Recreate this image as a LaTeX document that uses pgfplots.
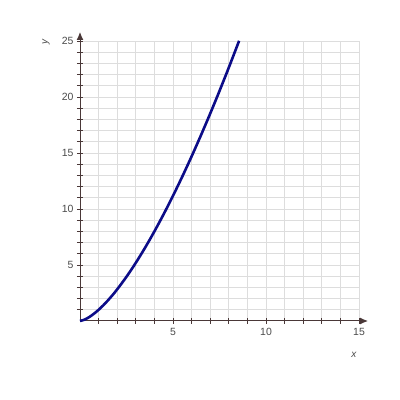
\documentclass[border=0pt]{standalone}
\usepackage{pgfplots}
\pgfplotsset{compat=1.18}
\usepackage{fontspec}
\setmainfont{Liberation Sans}
\usetikzlibrary{arrows.meta}
\definecolor{axiscol}{HTML}{4A3838}
\definecolor{gridcol}{HTML}{DDDDDD}
\definecolor{labcol}{HTML}{4A4A4A}
\definecolor{curvecol}{HTML}{0C0C88}
\begin{document}
\begin{tikzpicture}
\path[use as bounding box] (0,0) rectangle (400bp,400bp);
\begin{axis}[
  at={(80bp,79bp)}, anchor=origin,
  scale only axis, width=279bp, height=280bp,
  xmin=0, xmax=15, ymin=0, ymax=25,
  axis lines=left,
  axis line style={axiscol, line width=1bp, -{Latex[length=8bp,width=7bp]}, shorten >=-9bp},
  xtick={1,2,3,4,5,6,7,8,9,10,11,12,13,14,15},
  xticklabels={,,,,5,,,,,10,,,,,15},
  ytick={1,2,3,4,5,6,7,8,9,10,11,12,13,14,15,16,17,18,19,20,21,22,23,24,25},
  yticklabels={,,,,5,,,,,10,,,,,15,,,,,20,,,,,25},
  grid=major,
  major grid style={gridcol, line width=0.8bp},
  tick align=center,
  major tick length=6bp,
  tick style={axiscol, line width=0.8bp},
  tick label style={font=\fontsize{10.5}{12}\selectfont, text=labcol},
  xticklabel style={yshift=-1bp},
  xlabel={\itshape x}, ylabel={\itshape y},
  label style={font=\fontsize{10}{12}\selectfont, text=labcol},
  xlabel style={at={(axis description cs:0.982,-0.121)}, anchor=center},
  ylabel style={at={(axis description cs:-0.122,0.996)}, anchor=center},
  clip=false,
]
\addplot[curvecol, line width=2.6bp, smooth] coordinates {
(0,0) (0.25,0.125) (0.5,0.3536) (0.75,0.6495) (1,1) (1.25,1.3975) (1.5,1.8371)
(1.75,2.315) (2,2.8284) (2.5,3.9528) (3,5.1962) (3.5,6.5479) (4,8) (4.5,9.5459)
(5,11.1803) (5.5,12.8986) (6,14.6969) (6.5,16.5718) (7,18.5203) (7.5,20.5396)
(8,22.6274) (8.5,24.7815) (8.55,25.0)
};
\end{axis}
\end{tikzpicture}
\end{document}
